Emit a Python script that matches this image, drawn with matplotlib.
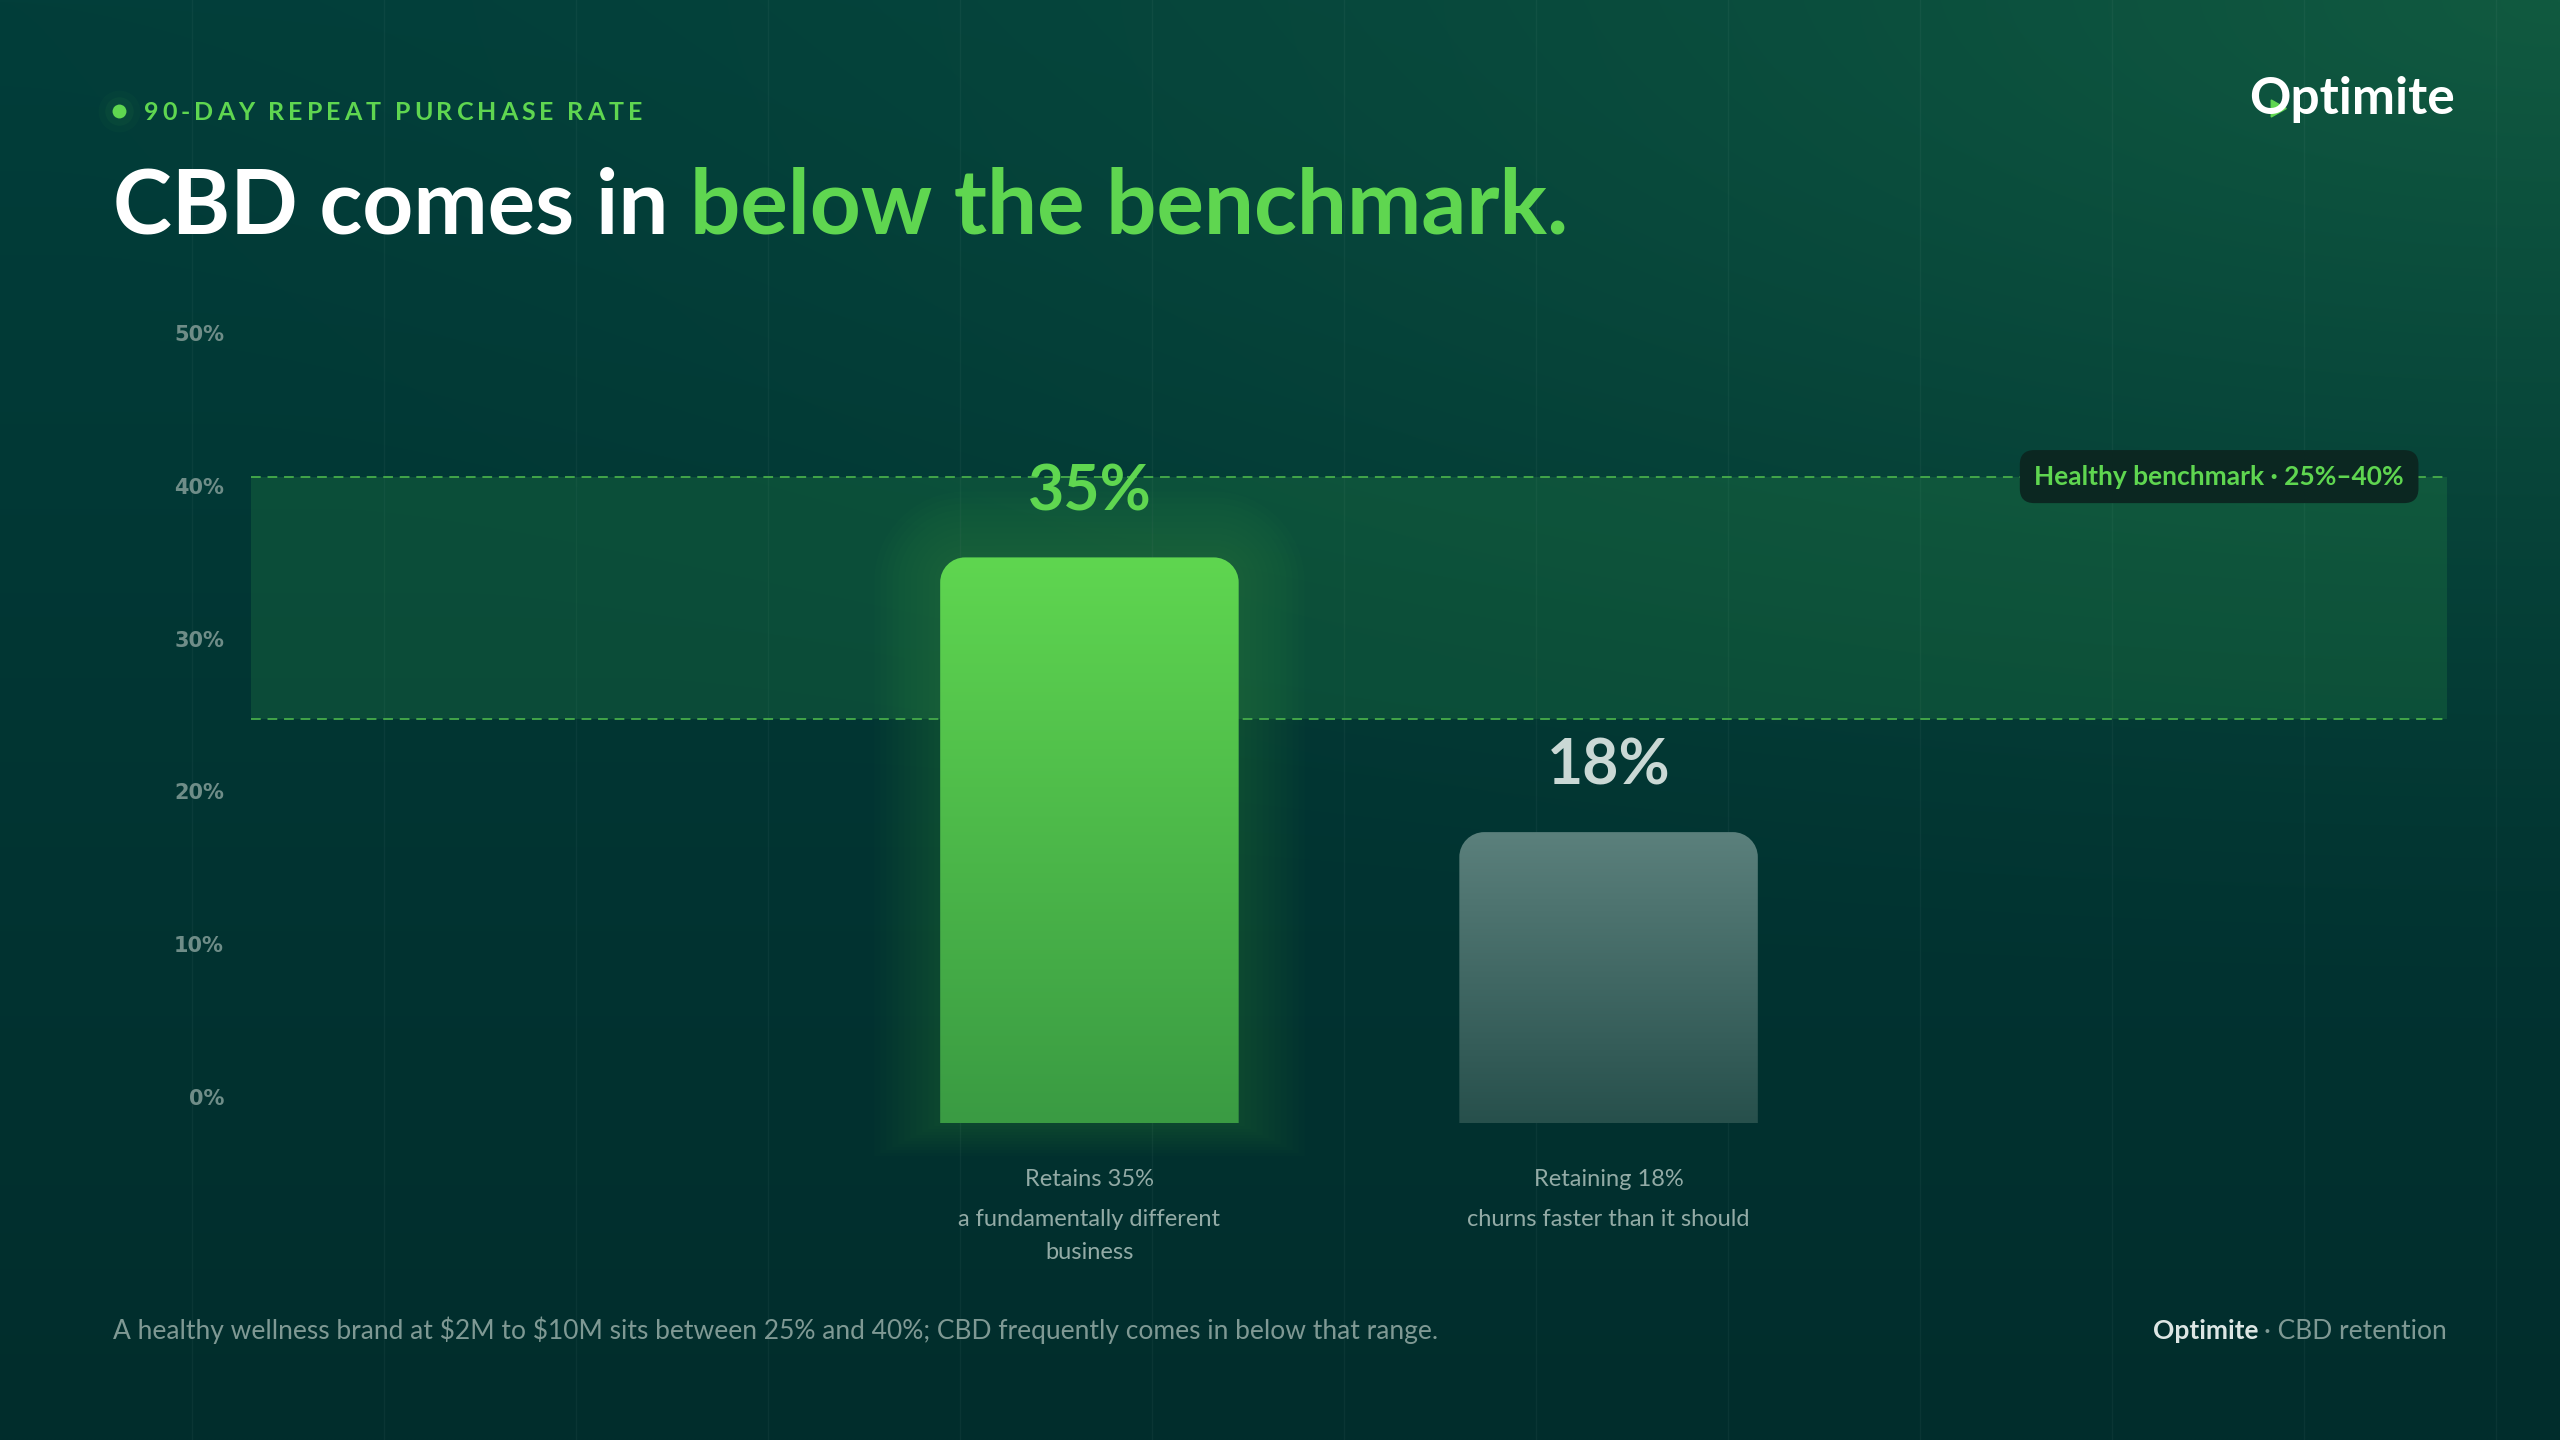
import numpy as np
import matplotlib
matplotlib.use('Agg')
import matplotlib.pyplot as plt
from matplotlib.path import Path
from matplotlib.patches import PathPatch, Polygon
from matplotlib.colors import to_rgb

# chart data
categories = ['Retains 35%', 'Retaining 18%']
notes = [['a fundamentally different', 'business'], ['churns faster than it should']]
values = [35, 18]
value_labels = ['35%', '18%']
bench_low = 25
bench_high = 40
tick_values = [0, 10, 20, 30, 40, 50]
tick_labels = ['0%', '10%', '20%', '30%', '40%', '50%']

eyebrow = '90-DAY REPEAT PURCHASE RATE'
title_a = 'CBD comes in'
title_b = 'below the benchmark.'
bench_text = 'Healthy benchmark \u00b7 25%\u201340%'
footnote = ('A healthy wellness brand at $2M to $10M sits between 25% and 40%; '
            'CBD frequently comes in below that range.')
brand = 'Optimite'
footer_tag = '\u00b7 CBD retention'

W, H = 2560, 1440
SANS = ['Lato', 'DejaVu Sans']
GREEN = '#5fd650'
MUTED = '#7f9994'


def fx(px):
    return px / W


def fy(py):
    return 1 - py / H


fig = plt.figure(figsize=(W / 100, H / 100), dpi=100)
renderer = fig.canvas.get_renderer()


def text_w(s, **kw):
    t = fig.text(0, 0, s, **kw)
    w = t.get_window_extent(renderer).width
    t.remove()
    return w


# background gradient + faint column lines
bg = fig.add_axes([0, 0, 1, 1])
bg.set_axis_off()
gh, gw = 360, 640
ys = np.linspace(0, 1, gh)[:, None, None]
xs = np.linspace(0, 1, gw)[None, :, None]
top_c = np.array(to_rgb('#023e3a'))
bot_c = np.array(to_rgb('#012d2c'))
base = top_c + (bot_c - top_c) * ys
d = np.sqrt((1 - xs) ** 2 + (ys * 1.4) ** 2)
g = np.clip(1 - d, 0, 1) ** 1.6
img = base * (1 - g) + np.array(to_rgb('#115a40')) * g
bg.imshow(img, extent=[0, 1, 0, 1], aspect='auto', interpolation='bilinear')
bg.set_xlim(0, 1)
bg.set_ylim(0, 1)
for k in range(1, 14):
    bg.axvline(fx(192 * k), color='white', alpha=0.04, lw=1)

# eyebrow with dot and letter spacing
for s, a in [(900, 0.03), (420, 0.05), (100, 1)]:
    bg.scatter([fx(119)], [fy(111)], s=s, color=GREEN, alpha=a, lw=0)
eb_kw = dict(fontsize=18, fontweight='bold', color=GREEN, family=SANS)
ref_w = text_w('I', **eb_kw)
natural = text_w(eyebrow, **eb_kw)
track = (498 - natural) / (len(eyebrow) - 1)
for i, ch in enumerate(eyebrow):
    off = text_w(eyebrow[:i] + 'I', **eb_kw) - ref_w if i else 0
    fig.text(fx(144 + off + i * track), fy(120), ch, va='baseline', **eb_kw)

# title
TS = 64
t1 = fig.text(fx(113), fy(233), title_a, fontsize=TS, fontweight='bold',
              color='white', family=SANS, va='baseline')
sp = text_w('a b', fontsize=TS, fontweight='bold', family=SANS) - \
    text_w('ab', fontsize=TS, fontweight='bold', family=SANS)
bb = t1.get_window_extent(renderer)
fig.text((bb.x1 + sp) / W, fy(233), title_b, fontsize=TS, fontweight='bold',
         color=GREEN, family=SANS, va='baseline')

# logo
lg = fig.text(fx(2455), fy(114), brand, fontsize=37, fontweight='bold',
              color='white', family=SANS, ha='right', va='baseline')
lb = lg.get_window_extent(renderer)
bg.add_patch(Polygon([[fx(lb.x0 + 22), fy(100)], [fx(lb.x0 + 37), fy(108.5)],
                      [fx(lb.x0 + 22), fy(117)]], color=GREEN, zorder=5))

# main plot
ax = fig.add_axes([fx(251), fy(1123), fx(2447) - fx(251), (1123 - 315) / H])
ax.set_axis_off()
xmin, xmax = -1.615, 2.615
ymax = 50
xu = (2447 - 251) / (xmax - xmin)
yu = (1123 - 315) / ymax

ax.axhspan(bench_low, bench_high, color='#3dbb52', alpha=0.17, lw=0, zorder=1)
for v in (bench_low, bench_high):
    ax.axhline(v, color='#4db64c', lw=1.4, ls=(0, (5, 3.5)), alpha=0.85, zorder=1)


def top_round_path(x0, x1, y0, y1, rx, ry):
    k = 0.5523
    verts = [(x0, y0), (x0, y1 - ry),
             (x0, y1 - ry + k * ry), (x0 + rx - k * rx, y1), (x0 + rx, y1),
             (x1 - rx, y1),
             (x1 - rx + k * rx, y1), (x1, y1 - ry + k * ry), (x1, y1 - ry),
             (x1, y0), (x0, y0)]
    codes = [Path.MOVETO, Path.LINETO, Path.CURVE4, Path.CURVE4, Path.CURVE4,
             Path.LINETO, Path.CURVE4, Path.CURVE4, Path.CURVE4,
             Path.LINETO, Path.CLOSEPOLY]
    return Path(verts, codes)


bar_top = ['#5fd650', '#5b807c']
bar_bot = ['#3a9b43', '#27504c']
bar_glow = [True, False]
label_col = [GREEN, '#cad8d5']
TXT = '#93aba6'

bars = ax.bar(range(len(values)), values, width=0.575, color='none', lw=0)
for i, b in enumerate(bars):
    x0 = b.get_x()
    x1 = x0 + b.get_width()
    hv = b.get_height()
    if bar_glow[i]:
        for j in range(1, 12):
            p = j * 6
            gp = top_round_path(x0 - p / xu, x1 + p / xu, -p * 0.5 / yu, hv + p / yu,
                                (25 + p) / xu, (25 + p) / yu)
            ax.add_patch(PathPatch(gp, fc=GREEN, ec='none', alpha=0.014,
                                   zorder=2, clip_on=False))
    t = np.linspace(0, 1, 256)[:, None, None]
    c0 = np.array(to_rgb(bar_top[i]))
    c1 = np.array(to_rgb(bar_bot[i]))
    grad = c0 + (c1 - c0) * t
    im = ax.imshow(grad, extent=[x0, x1, 0, hv], aspect='auto', zorder=3,
                   interpolation='bilinear')
    clip = PathPatch(top_round_path(x0, x1, 0, hv, 25 / xu, 25 / yu),
                     fc='none', ec='none', transform=ax.transData)
    ax.add_patch(clip)
    im.set_clip_path(clip)

    cx = x0 + b.get_width() / 2
    ax.annotate(value_labels[i], xy=(cx, hv), xytext=(0, 34),
                textcoords='offset points', ha='center', va='baseline',
                fontsize=45, fontweight='bold', color=label_col[i],
                family=SANS, zorder=6)
    ax.annotate(categories[i], xy=(cx, 0), xytext=(0, -45),
                textcoords='offset points', ha='center', va='baseline',
                fontsize=17, color=TXT, family=SANS, annotation_clip=False)
    for j, line in enumerate(notes[i]):
        ax.annotate(line, xy=(cx, 0), xytext=(0, -74 - 24 * j),
                    textcoords='offset points', ha='center', va='baseline',
                    fontsize=17, color=TXT, family=SANS, annotation_clip=False)

ax.annotate(bench_text, xy=(1, bench_high), xycoords=('axes fraction', 'data'),
            xytext=(-31, 0), textcoords='offset points', ha='right', va='center',
            fontsize=19, fontweight='bold', color=GREEN, family=SANS, zorder=7,
            bbox=dict(boxstyle='round,pad=0.55,rounding_size=0.55',
                      fc='#0b2721', ec='none'))

ax.set_xlim(xmin, xmax)
ax.set_ylim(0, ymax)

# y tick labels column
axt = fig.add_axes([fx(224), fy(1097), 0.001, (1097 - 333) / H])
axt.set_ylim(0, 50)
axt.set_yticks(tick_values, tick_labels)
axt.set_xticks([])
axt.tick_params(length=0, pad=0, labelsize=15, labelcolor='#6f8d88')
for lab in axt.get_yticklabels():
    lab.set_fontweight('bold')
    lab.set_family('DejaVu Sans')
for s in axt.spines.values():
    s.set_visible(False)
axt.patch.set_alpha(0)

# footer
fig.text(fx(113), fy(1339), footnote, fontsize=19, color=MUTED,
         family=SANS, va='baseline', parse_math=False)
ft = fig.text(fx(2447), fy(1339), footer_tag, fontsize=19, color=MUTED,
              family=SANS, ha='right', va='baseline')
fb = ft.get_window_extent(renderer)
fig.text((fb.x0 - 6) / W, fy(1339), brand, fontsize=19, fontweight='bold',
         color='#dde6e4', family=SANS, ha='right', va='baseline')

fig.savefig('out.png', dpi=100)
